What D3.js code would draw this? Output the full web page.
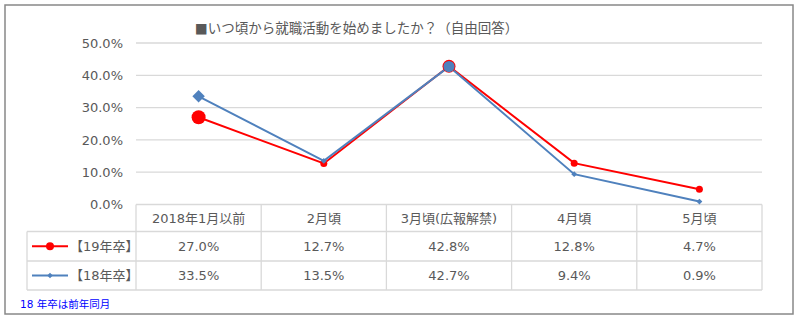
<!DOCTYPE html>
<html><head><meta charset="utf-8">
<script src="https://cdn.jsdelivr.net/npm/d3@7"></script>
<style>body{margin:0;background:#fff}svg{display:block}</style>
</head><body><svg id="c" width="800" height="323"></svg>
<script>
const categories = ["2018年1月以前","2月頃","3月頃(広報解禁)","4月頃","5月頃"];
const seriesNames = ["【19年卒】","【18年卒】"];
const s19 = [27.0, 12.7, 42.8, 12.8, 4.7];
const s18 = [33.5, 13.5, 42.7, 9.4, 0.9];
const yTicks = [0,10,20,30,40,50];
const title = "■いつ頃から就職活動を始めましたか？（自由回答）";
const footnote = "18 年卒は前年同月";

const font = "'DejaVu Sans','Noto Sans CJK JP',sans-serif";
const textCol = "#595959";
const svg = d3.select("#c");
svg.append("rect").attr("x",5).attr("y",5).attr("width",788).attr("height",309)
  .attr("fill","#fff").attr("stroke","#888").attr("stroke-width",1.5);

const x0 = 136, x1 = 762;
const x = d3.scaleBand().domain(categories).range([x0,x1]).padding(0);
const y = d3.scaleLinear().domain([0,50]).range([204.5,43]);

svg.append("text").attr("x",195).attr("y",33).attr("font-family",font).attr("font-size",13.5)
  .attr("fill",textCol).text(title);

// gridlines
svg.append("g").selectAll("line").data(yTicks.filter(d=>d>0)).join("line")
  .attr("x1",x0).attr("x2",x1).attr("y1",d=>y(d)).attr("y2",d=>y(d))
  .attr("stroke","#d9d9d9").attr("stroke-width",1.3);

// y axis labels
const yAxis = d3.axisLeft(y).tickValues(yTicks).tickFormat(d=>d.toFixed(1)+"%").tickSize(0).tickPadding(0);
const ga = svg.append("g").attr("transform","translate(123,0)").call(yAxis);
ga.select(".domain").remove();
ga.selectAll("text").attr("font-family",font).attr("font-size",13).attr("fill",textCol);

// table
const rowY = [204.5, 231.5, 261, 290];
const tbl = svg.append("g").attr("stroke","#d9d9d9").attr("stroke-width",1.3);
tbl.append("line").attr("x1",x0).attr("x2",x1).attr("y1",rowY[0]).attr("y2",rowY[0]);
[1,2,3].forEach(i=>tbl.append("line").attr("x1",27).attr("x2",x1).attr("y1",rowY[i]).attr("y2",rowY[i]));
const cols = categories.map(c=>x(c)).concat([x1]);
cols.forEach(cx=>tbl.append("line").attr("x1",cx).attr("x2",cx).attr("y1",rowY[0]).attr("y2",rowY[3]));
tbl.append("line").attr("x1",27).attr("x2",27).attr("y1",rowY[1]).attr("y2",rowY[3]);

const cell = (t,cx,cy)=>svg.append("text").attr("x",cx).attr("y",cy).attr("text-anchor","middle")
  .attr("dominant-baseline","central").attr("font-family",font).attr("font-size",13).attr("fill",textCol).text(t);
categories.forEach((c,i)=>{
  const cx = x(c)+x.bandwidth()/2;
  cell(c,cx,(rowY[0]+rowY[1])/2);
  cell(s19[i].toFixed(1)+"%",cx,(rowY[1]+rowY[2])/2);
  cell(s18[i].toFixed(1)+"%",cx,(rowY[2]+rowY[3])/2);
});

// legend in table
const red = "#ff0000", blue = "#4f81bd";
const ly1 = (rowY[1]+rowY[2])/2, ly2 = (rowY[2]+rowY[3])/2;
svg.append("line").attr("x1",32).attr("x2",68).attr("y1",ly1).attr("y2",ly1).attr("stroke",red).attr("stroke-width",2);
svg.append("circle").attr("cx",50).attr("cy",ly1).attr("r",4).attr("fill",red);
svg.append("line").attr("x1",32).attr("x2",68).attr("y1",ly2).attr("y2",ly2).attr("stroke",blue).attr("stroke-width",2);
svg.append("path").attr("d",d3.symbol(d3.symbolDiamond2,20)()).attr("transform",`translate(50,${ly2})`).attr("fill",blue);
[ [seriesNames[0],ly1],[seriesNames[1],ly2] ].forEach(([t,yy])=>
  svg.append("text").attr("x",70).attr("y",yy).attr("dominant-baseline","central")
   .attr("font-family",font).attr("font-size",13).attr("fill",textCol).text(t));

// footnote
svg.append("text").attr("x",20).attr("y",308).attr("font-family",font).attr("font-size",10.5)
  .attr("fill","#0000ff").text(footnote);

// lines
const cxOf = i => x(categories[i]) + x.bandwidth()/2;
const line = d3.line().x((d,i)=>cxOf(i)).y(d=>y(d));
svg.append("path").datum(s19).attr("d",line).attr("fill","none").attr("stroke",red).attr("stroke-width",2);
svg.append("path").datum(s18).attr("d",line).attr("fill","none").attr("stroke",blue).attr("stroke-width",2);

// markers: red
const redR = [7,3.5,6.5,3.5,3.5];
svg.append("g").selectAll("circle").data(s19).join("circle")
  .attr("cx",(d,i)=>cxOf(i)).attr("cy",d=>y(d)).attr("r",(d,i)=>redR[i]).attr("fill",red);
// markers: blue
s18.forEach((d,i)=>{
  if(i===2){
    svg.append("circle").attr("cx",cxOf(i)).attr("cy",y(d)).attr("r",5.6).attr("fill",blue);
  } else {
    const sz = i===0 ? 98 : 22;
    svg.append("path").attr("d",d3.symbol(d3.symbolDiamond2,sz)())
      .attr("transform",`translate(${cxOf(i)},${y(d)})`).attr("fill",blue);
  }
});
</script></body></html>
